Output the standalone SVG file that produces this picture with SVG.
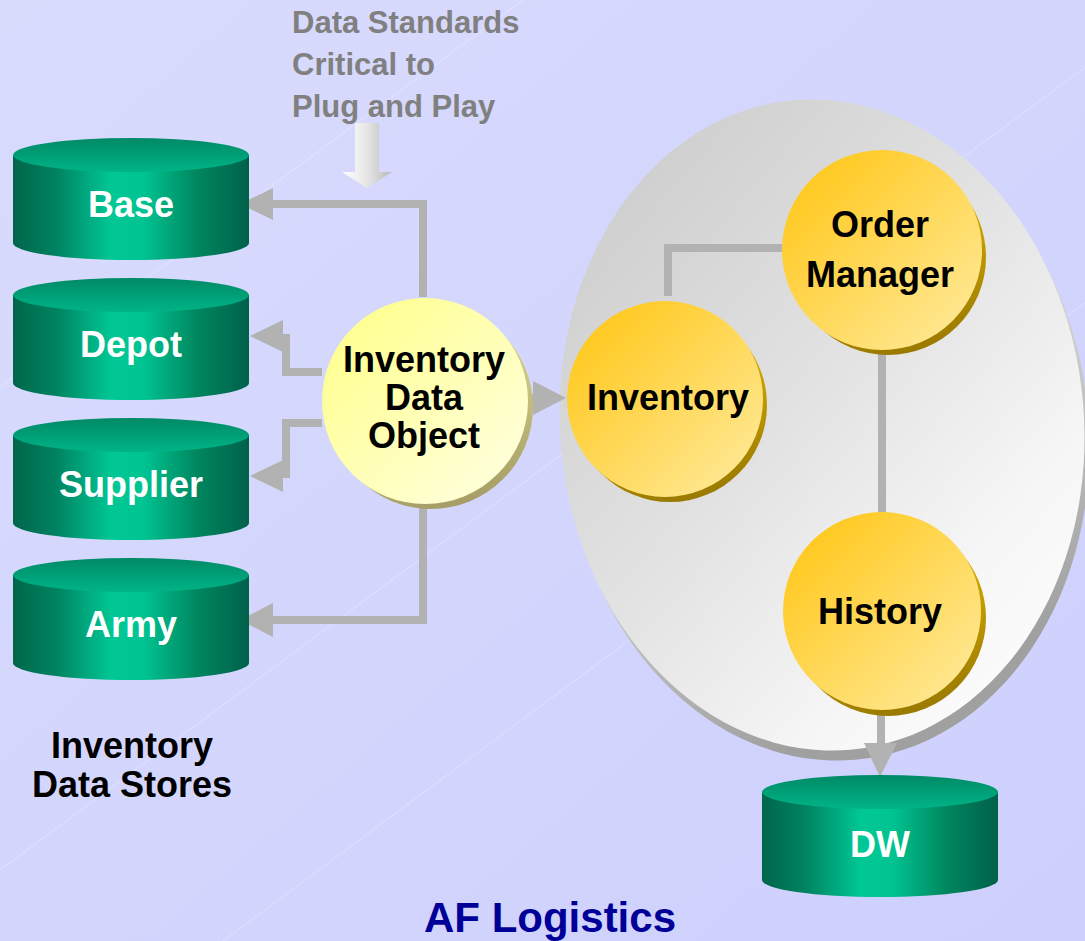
<svg xmlns="http://www.w3.org/2000/svg" xmlns:xlink="http://www.w3.org/1999/xlink" width="1085" height="941" viewBox="0 0 1085 941">
  <defs>
    <linearGradient id="bg" x1="0" y1="0" x2="1" y2="1">
      <stop offset="0" stop-color="#d9dbfd"/>
      <stop offset="1" stop-color="#cdd0fc"/>
    </linearGradient>
    <linearGradient id="zoneFace" x1="0.15" y1="0.05" x2="0.85" y2="0.95">
      <stop offset="0" stop-color="#cdcdcd"/>
      <stop offset="0.45" stop-color="#e2e2e2"/>
      <stop offset="0.8" stop-color="#f6f6f6"/>
      <stop offset="1" stop-color="#fcfcfc"/>
    </linearGradient>
    <linearGradient id="zoneRim" x1="0" y1="0" x2="0.3" y2="1">
      <stop offset="0" stop-color="#e6e6e6"/>
      <stop offset="0.6" stop-color="#d0d0d0"/>
      <stop offset="1" stop-color="#a0a0a0"/>
    </linearGradient>
    <linearGradient id="cylSide" x1="0" y1="0" x2="1" y2="0">
      <stop offset="0" stop-color="#00664a"/>
      <stop offset="0.18" stop-color="#008260"/>
      <stop offset="0.42" stop-color="#00c895"/>
      <stop offset="0.55" stop-color="#00c492"/>
      <stop offset="0.78" stop-color="#00875f"/>
      <stop offset="1" stop-color="#00604a"/>
    </linearGradient>
    <linearGradient id="cylTop" x1="0" y1="0" x2="0" y2="1">
      <stop offset="0" stop-color="#008a66"/>
      <stop offset="1" stop-color="#00b487"/>
    </linearGradient>
    <linearGradient id="goldFace" x1="0.1" y1="0.1" x2="0.9" y2="0.9">
      <stop offset="0" stop-color="#ffc81c"/>
      <stop offset="1" stop-color="#ffe893"/>
    </linearGradient>
    <linearGradient id="goldEdge" x1="0.3" y1="0" x2="0.5" y2="1">
      <stop offset="0" stop-color="#f0c000"/>
      <stop offset="1" stop-color="#9a7a00"/>
    </linearGradient>
    <linearGradient id="paleFace" x1="0.1" y1="0.1" x2="0.9" y2="0.9">
      <stop offset="0" stop-color="#ffff8e"/>
      <stop offset="1" stop-color="#ffffdc"/>
    </linearGradient>
    <linearGradient id="paleEdge" x1="0.3" y1="0" x2="0.5" y2="1">
      <stop offset="0" stop-color="#e8e89a"/>
      <stop offset="1" stop-color="#a69e66"/>
    </linearGradient>
    <linearGradient id="blockArrow" x1="0" y1="0" x2="1" y2="0">
      <stop offset="0" stop-color="#ffffff"/>
      <stop offset="0.5" stop-color="#e6e6e6"/>
      <stop offset="1" stop-color="#b8b8b8"/>
    </linearGradient>

    <!-- storage cylinder, 236 wide, 122 tall -->
    <g id="cyl">
      <path d="M0,17 L0,105 A118,17 0 0 0 236,105 L236,17 Z" fill="url(#cylSide)"/>
      <ellipse cx="118" cy="17" rx="118" ry="17" fill="url(#cylTop)"/>
    </g>
  </defs>

  <style>
    .lbl { font-family: "Liberation Sans", Arial, Helvetica, sans-serif; font-weight: bold; text-anchor: middle; }
    .store { fill: #ffffff; font-size: 36px; }
    .proc { fill: #000000; font-size: 36px; }
    .note { font-family: "Liberation Sans", Arial, Helvetica, sans-serif; font-weight: bold; fill: #808080; font-size: 31px; }
    .wire { fill: none; stroke: #b2b2b2; stroke-width: 8; }
    .head { fill: #b2b2b2; }
    .sheen { stroke: #ffffff; stroke-opacity: 0.3; stroke-width: 1; }
  </style>

  <!-- backdrop -->
  <rect x="0" y="0" width="1085" height="941" fill="url(#bg)"/>
  <g class="sheen">
    <line x1="0" y1="387" x2="523" y2="0"/>
    <line x1="0" y1="870" x2="1176" y2="0"/>
    <line x1="0" y1="1106" x2="1085" y2="303"/>
  </g>

  <!-- application zone -->
  <g id="zone">
    <ellipse cx="827" cy="435" rx="262" ry="326" transform="rotate(-5 827 435)" fill="url(#zoneRim)"/>
    <ellipse cx="822" cy="425" rx="262" ry="326" transform="rotate(-5 822 425)" fill="url(#zoneFace)"/>
  </g>

  <!-- standards arrow and note -->
  <g id="standards">
    <text class="note" x="292" y="33">Data Standards</text>
    <text class="note" x="292" y="75">Critical to</text>
    <text class="note" x="292" y="117">Plug and Play</text>
    <polygon points="355,123 379,123 379,172 392,172 367,188 342,172 355,172" fill="url(#blockArrow)"/>
  </g>

  <!-- connectors -->
  <g id="connectors">
    <polyline class="wire" points="423,297 423,204 268,204"/>
    <polygon class="head" points="240,204 273,188 273,220"/>

    <polyline class="wire" points="322,372 286,372 286,338 275,338"/>
    <polygon class="head" points="250,336 283,320 283,352"/>

    <polyline class="wire" points="322,423 286,423 286,474 275,474"/>
    <polygon class="head" points="250,476 283,460 283,492"/>

    <polyline class="wire" points="423,505 423,620 268,620"/>
    <polygon class="head" points="240,620 273,603 273,637"/>

    <line class="wire" x1="527" y1="398" x2="540" y2="398" stroke-linecap="round"/>
    <polygon class="head" points="566,398 533,381 533,415"/>

    <polyline class="wire" points="782,248 668,248 668,296"/>

    <line class="wire" x1="882" y1="349" x2="882" y2="515" stroke-linecap="round"/>

    <line class="wire" x1="881" y1="710" x2="881" y2="750" stroke-linecap="round"/>
    <polygon class="head" points="880,777 864,743 897,743"/>
  </g>

  <!-- data stores -->
  <g id="store-base" transform="translate(13,138)">
    <use xlink:href="#cyl"/>
    <text class="lbl store" x="118" y="79">Base</text>
  </g>
  <g id="store-depot" transform="translate(13,278)">
    <use xlink:href="#cyl"/>
    <text class="lbl store" x="118" y="79">Depot</text>
  </g>
  <g id="store-supplier" transform="translate(13,418)">
    <use xlink:href="#cyl"/>
    <text class="lbl store" x="118" y="79">Supplier</text>
  </g>
  <g id="store-army" transform="translate(13,558)">
    <use xlink:href="#cyl"/>
    <text class="lbl store" x="118" y="79">Army</text>
  </g>
  <g id="store-dw" transform="translate(762,775)">
    <use xlink:href="#cyl"/>
    <text class="lbl store" x="118" y="82">DW</text>
  </g>

  <!-- data object -->
  <g id="inventory-data-object">
    <circle cx="431" cy="407" r="102" fill="url(#paleEdge)"/>
    <circle cx="425" cy="401" r="103" fill="url(#paleFace)"/>
    <text class="lbl proc" x="424" y="372">Inventory</text>
    <text class="lbl proc" x="424" y="410">Data</text>
    <text class="lbl proc" x="424" y="448">Object</text>
  </g>

  <!-- services -->
  <g id="inventory">
    <circle cx="670" cy="405" r="97" fill="url(#goldEdge)"/>
    <circle cx="665" cy="399" r="98" fill="url(#goldFace)"/>
    <text class="lbl proc" x="668" y="410">Inventory</text>
  </g>
  <g id="order-manager">
    <circle cx="888" cy="257" r="98" fill="url(#goldEdge)"/>
    <circle cx="882" cy="250" r="100" fill="url(#goldFace)"/>
    <text class="lbl proc" x="880" y="237">Order</text>
    <text class="lbl proc" x="880" y="287">Manager</text>
  </g>
  <g id="history">
    <circle cx="888" cy="618" r="98" fill="url(#goldEdge)"/>
    <circle cx="882" cy="611" r="99" fill="url(#goldFace)"/>
    <text class="lbl proc" x="880" y="624">History</text>
  </g>

  <!-- captions -->
  <g id="captions">
    <text class="lbl proc" x="132" y="758">Inventory</text>
    <text class="lbl proc" x="132" y="797">Data Stores</text>
    <text class="lbl" x="550" y="932" fill="#000099" font-size="42">AF Logistics</text>
  </g>
</svg>
